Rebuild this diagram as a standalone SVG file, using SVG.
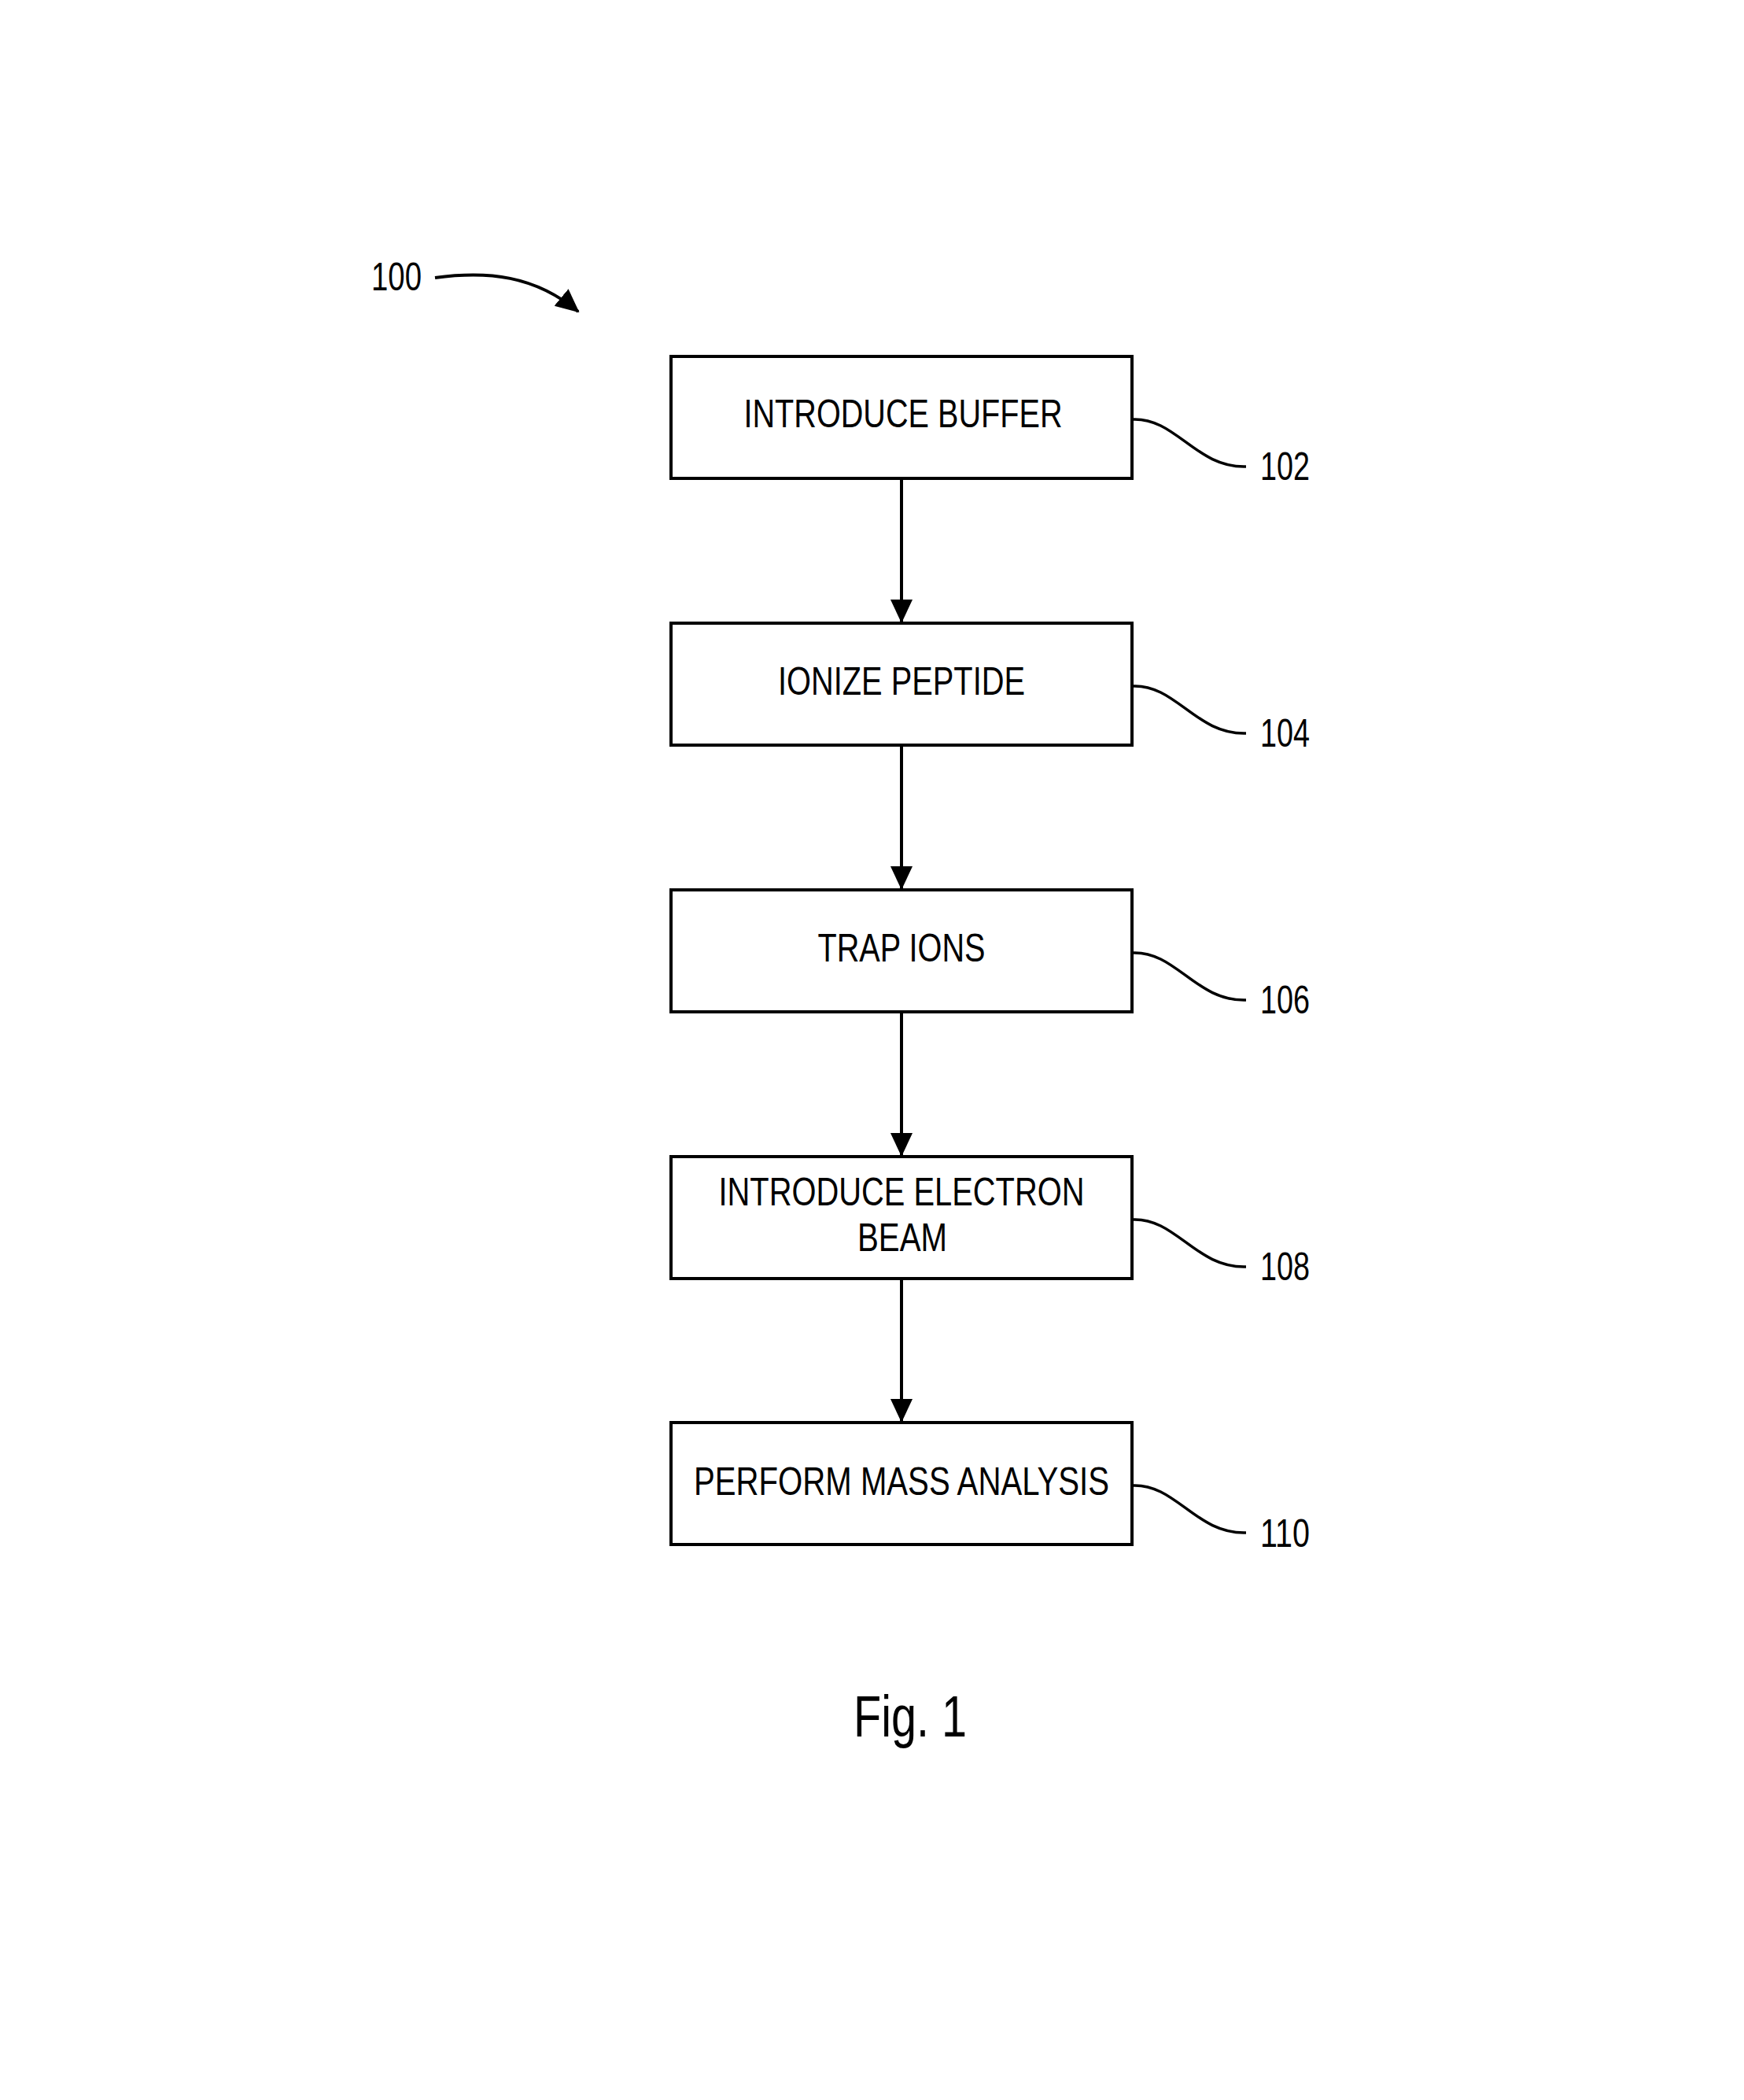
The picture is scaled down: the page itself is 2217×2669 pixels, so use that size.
<svg xmlns="http://www.w3.org/2000/svg" width="2217" height="2669" viewBox="0 0 2217 2669">
<style>
.box{fill:#fff;stroke:#000;stroke-width:4}
.t{font-family:"Liberation Sans Narrow","Liberation Sans",Arial,sans-serif;font-size:50px;fill:#000;text-anchor:middle}
.lbl{font-family:"Liberation Sans Narrow","Liberation Sans",Arial,sans-serif;font-size:50px;fill:#000}
.cap{font-family:"Liberation Sans Narrow","Liberation Sans",Arial,sans-serif;font-size:74px;fill:#000}
.lead{fill:none;stroke:#000;stroke-width:3.5}
.arr{fill:none;stroke:#000;stroke-width:4}
</style>
<defs>
<marker id="ah" markerUnits="userSpaceOnUse" markerWidth="30" markerHeight="30" viewBox="0 0 30 30" refX="28" refY="15" orient="auto">
<path d="M0,1 L30,15 L0,29 Z" fill="#000"/>
</marker>
</defs>
<g id="ref100">
<text class="lbl" x="472" y="369" textLength="64" lengthAdjust="spacingAndGlyphs">100</text>
<path class="arr" d="M553,353 C620,344 680,350 735,396" marker-end="url(#ah)"/>
</g>
<g id="connectors">
<line class="arr" x1="1146" y1="608" x2="1146" y2="790" marker-end="url(#ah)"/>
<line class="arr" x1="1146" y1="947" x2="1146" y2="1129" marker-end="url(#ah)"/>
<line class="arr" x1="1146" y1="1286" x2="1146" y2="1468" marker-end="url(#ah)"/>
<line class="arr" x1="1146" y1="1624" x2="1146" y2="1806" marker-end="url(#ah)"/>
</g>
<g id="n102">
<rect class="box" x="853" y="453" width="586" height="155"/>
<text class="t" x="1148" y="543" textLength="405" lengthAdjust="spacingAndGlyphs">INTRODUCE BUFFER</text>
<path class="lead" d="M1439,533 C1495,530 1520,595 1584,593"/>
<text class="lbl" x="1602" y="610" textLength="63" lengthAdjust="spacingAndGlyphs">102</text>
</g>
<g id="n104">
<rect class="box" x="853" y="792" width="586" height="155"/>
<text class="t" x="1146" y="883" textLength="314" lengthAdjust="spacingAndGlyphs">IONIZE PEPTIDE</text>
<path class="lead" d="M1439,872 C1495,869 1520,934 1584,932"/>
<text class="lbl" x="1602" y="949" textLength="63" lengthAdjust="spacingAndGlyphs">104</text>
</g>
<g id="n106">
<rect class="box" x="853" y="1131" width="586" height="155"/>
<text class="t" x="1146" y="1222" textLength="213" lengthAdjust="spacingAndGlyphs">TRAP IONS</text>
<path class="lead" d="M1439,1211 C1495,1208 1520,1273 1584,1271"/>
<text class="lbl" x="1602" y="1288" textLength="63" lengthAdjust="spacingAndGlyphs">106</text>
</g>
<g id="n108">
<rect class="box" x="853" y="1470" width="586" height="155"/>
<text class="t" x="1146" y="1532" textLength="465" lengthAdjust="spacingAndGlyphs">INTRODUCE ELECTRON</text>
<text class="t" x="1147" y="1590" textLength="114" lengthAdjust="spacingAndGlyphs">BEAM</text>
<path class="lead" d="M1439,1550 C1495,1547 1520,1612 1584,1610"/>
<text class="lbl" x="1602" y="1627" textLength="63" lengthAdjust="spacingAndGlyphs">108</text>
</g>
<g id="n110">
<rect class="box" x="853" y="1808" width="586" height="155"/>
<text class="t" x="1146" y="1900" textLength="528" lengthAdjust="spacingAndGlyphs">PERFORM MASS ANALYSIS</text>
<path class="lead" d="M1439,1888 C1495,1885 1520,1950 1584,1948"/>
<text class="lbl" x="1602" y="1966" textLength="63" lengthAdjust="spacingAndGlyphs">110</text>
</g>
<g id="caption">
<text class="cap" x="1085" y="2207" textLength="144" lengthAdjust="spacingAndGlyphs">Fig. 1</text>
</g>
</svg>
